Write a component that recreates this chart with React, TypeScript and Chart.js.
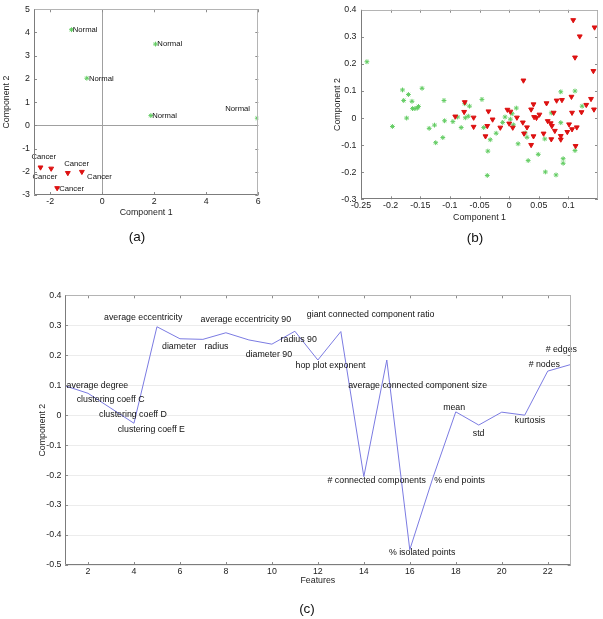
import React, { useEffect, useRef } from "react";
import { Chart, registerables } from "chart.js";
Chart.register(...registerables);

const FONT = '"Liberation Sans", Arial, Helvetica, sans-serif';
const W = 603;
const H = 619;

// ---------- Panel (a) ----------
const normalX = [-1.18, 2.05, -0.59, 1.87, 5.96];
const normalY = [4.12, 3.5, 2.03, 0.42, 0.31];
const cancerX = [-2.37, -1.96, -1.32, -0.78, -1.73];
const cancerY = [-1.81, -1.86, -2.05, -2.0, -2.7];
const aLabelText = ["Normal", "Normal", "Normal", "Normal", "Normal", "Cancer", "Cancer", "Cancer", "Cancer", "Cancer"];
const aLabelX = [-1.13, 2.12, -0.51, 1.92, 4.73, -2.72, -2.68, -1.46, -0.58, -1.65];
const aLabelY = [4.11, 3.5, 2.0, 0.4, 0.69, -1.36, -2.24, -1.67, -2.21, -2.73];
const aTicksX = [-2, 0, 2, 4, 6];
const aTicksY = [-3, -2, -1, 0, 1, 2, 3, 4, 5];

// ---------- Panel (b) ----------
const greenX = [-0.24, -0.18, -0.178, -0.17, -0.164, -0.163, -0.159, -0.155, -0.153, -0.147, -0.173, -0.197, -0.135, -0.126, -0.124, -0.112, -0.11, -0.109, -0.095, -0.087, -0.081, -0.074, -0.075, -0.069, -0.067, -0.046, -0.043, -0.036, -0.037, -0.032, -0.022, -0.011, -0.007, 0.002, 0.005, 0.007, 0.012, 0.015, 0.027, 0.03, 0.032, 0.049, 0.06, 0.061, 0.071, 0.079, 0.087, 0.087, 0.091, 0.091, 0.111, 0.111, 0.123];
const greenY = [0.208, 0.104, 0.065, 0.087, 0.062, 0.035, 0.035, 0.037, 0.043, 0.11, 0.0, -0.031, -0.038, -0.026, -0.091, -0.072, 0.065, -0.01, -0.013, 0.004, -0.035, 0.001, 0.053, 0.007, 0.044, 0.069, -0.035, -0.122, -0.212, -0.08, -0.056, -0.016, 0.004, -0.004, 0.016, -0.025, 0.037, -0.095, -0.055, -0.071, -0.157, -0.134, -0.077, -0.199, 0.019, -0.21, 0.097, -0.017, -0.15, -0.167, 0.1, -0.12, 0.044];
const redX = [0.108, 0.144, 0.119, 0.111, 0.142, 0.024, -0.091, -0.075, -0.076, -0.06, -0.06, -0.035, -0.037, -0.04, -0.028, -0.015, -0.003, 0.002, 0.0, 0.006, 0.013, 0.023, 0.025, 0.03, 0.037, 0.041, 0.037, 0.041, 0.042, 0.046, 0.051, 0.063, 0.065, 0.07, 0.058, 0.071, 0.072, 0.075, 0.077, 0.08, 0.089, 0.087, 0.087, 0.098, 0.101, 0.105, 0.106, 0.106, 0.114, 0.112, 0.122, 0.138, 0.143, 0.13];
const redY = [0.362, 0.335, 0.302, 0.224, 0.174, 0.139, 0.006, 0.059, 0.023, 0.002, -0.032, 0.025, -0.029, -0.067, -0.005, -0.035, 0.031, 0.024, -0.02, -0.035, 0.002, -0.016, -0.057, -0.034, 0.032, 0.051, -0.099, -0.067, 0.004, 0.001, 0.013, 0.055, -0.011, -0.019, -0.057, -0.078, -0.029, 0.02, -0.047, 0.065, 0.067, -0.066, -0.079, -0.051, -0.023, 0.079, 0.02, -0.041, -0.034, -0.103, 0.022, 0.071, 0.032, 0.049];
const bTicksX = [-0.25, -0.2, -0.15, -0.1, -0.05, 0, 0.05, 0.1];
const bTicksY = [-0.3, -0.2, -0.1, 0, 0.1, 0.2, 0.3, 0.4];

// ---------- Panel (c) ----------
const featureIdx = [1, 2, 3, 4, 5, 6, 7, 8, 9, 10, 11, 12, 13, 14, 15, 16, 17, 18, 19, 20, 21, 22, 23];
const featureVal = [0.098, 0.073, 0.023, -0.027, 0.295, 0.255, 0.253, 0.275, 0.251, 0.237, 0.28, 0.184, 0.279, -0.205, 0.184, -0.449, -0.21, 0.011, -0.033, 0.01, 0.0, 0.147, 0.169];
const cLabelText = ["average degree", "clustering coeff C", "clustering coeff D", "clustering coeff E", "average eccentricity", "diameter", "radius", "average eccentricity 90", "diameter 90", "radius 90", "hop plot exponent", "giant connected component ratio", "# connected components", "average connected component size", "% isolated points", "% end points", "mean", "std", "kurtosis", "# nodes", "# edges"];
const cLabelX = [1.07, 1.51, 2.48, 3.29, 2.7, 5.22, 7.07, 6.9, 8.86, 10.38, 11.03, 11.52, 12.42, 13.32, 15.09, 17.06, 17.45, 18.74, 20.57, 21.17, 21.91];
const cLabelY = [0.098, 0.051, 0.003, -0.049, 0.327, 0.228, 0.228, 0.318, 0.202, 0.253, 0.164, 0.335, -0.217, 0.098, -0.457, -0.217, 0.025, -0.06, -0.019, 0.169, 0.218];
const cTicksX = [2, 4, 6, 8, 10, 12, 14, 16, 18, 20, 22];
const cTicksY = [-0.5, -0.4, -0.3, -0.2, -0.1, 0, 0.1, 0.2, 0.3, 0.4];

const fmt = (v: number) => String(+Number(v).toFixed(4));

const framePlugin = {
  id: "frame",
  afterDraw(chart: any) {
    const { ctx, chartArea: a, scales } = chart;
    const tl = 3;
    ctx.save();
    ctx.lineWidth = 1;
    ctx.strokeStyle = "#8c8c8c";
    ctx.beginPath();
    scales.x.ticks.forEach((t: any) => {
      const p = Math.round(scales.x.getPixelForValue(t.value)) + 0.5;
      ctx.moveTo(p, a.bottom);
      ctx.lineTo(p, a.bottom - tl);
      ctx.moveTo(p, a.top);
      ctx.lineTo(p, a.top + tl);
    });
    scales.y.ticks.forEach((t: any) => {
      const p = Math.round(scales.y.getPixelForValue(t.value)) + 0.5;
      ctx.moveTo(a.left, p);
      ctx.lineTo(a.left + tl, p);
      ctx.moveTo(a.right, p);
      ctx.lineTo(a.right - tl, p);
    });
    ctx.stroke();
    const l = Math.round(a.left) + 0.5;
    const r = Math.round(a.right) - 0.5;
    const t = Math.round(a.top) + 0.5;
    const b = Math.round(a.bottom) - 0.5;
    ctx.strokeStyle = "#b4b4b4";
    ctx.beginPath();
    ctx.moveTo(l, t);
    ctx.lineTo(r, t);
    ctx.lineTo(r, b);
    ctx.stroke();
    ctx.strokeStyle = "#7c7c7c";
    ctx.beginPath();
    ctx.moveTo(l, t);
    ctx.lineTo(l, b);
    ctx.lineTo(r, b);
    ctx.stroke();
    ctx.restore();
  },
};

const labelPlugin = {
  id: "textLabels",
  afterDatasetsDraw(chart: any, _args: any, opts: any) {
    if (!opts || !opts.text) return;
    const { ctx, scales } = chart;
    ctx.save();
    ctx.font = `${opts.size}px ${FONT}`;
    ctx.fillStyle = "#111";
    ctx.textAlign = "left";
    ctx.textBaseline = "middle";
    opts.text.forEach((s: string, i: number) => {
      ctx.fillText(s, scales.x.getPixelForValue(opts.x[i]), scales.y.getPixelForValue(opts.y[i]));
    });
    ctx.restore();
  },
};

function axis(ticks: number[], min: number, max: number, extra: any, titleText: string, titlePad: any, fitSize: number, horizontal: boolean, tickPad: number) {
  return {
    type: "linear",
    min,
    max,
    afterBuildTicks: (s: any) => {
      s.ticks = ticks.map((v) => ({ value: v }));
    },
    afterFit: (s: any) => {
      if (horizontal) s.height = fitSize;
      else s.width = fitSize;
    },
    ticks: { callback: (v: any) => fmt(v), padding: tickPad, color: "#222", font: { size: 8.8, family: FONT }, maxRotation: 0, autoSkip: false },
    border: { display: false },
    title: { display: true, text: titleText, color: "#222", font: { size: 8.8, family: FONT }, padding: titlePad },
    ...extra,
  };
}

function zeroGrid() {
  return {
    display: true,
    drawTicks: false,
    lineWidth: 1,
    color: (c: any) => (c.tick && c.tick.value === 0 ? "#a0a0a0" : "rgba(0,0,0,0)"),
  };
}

const greenStyle = { radius: 2.4, color: "#62cc62", width: 1 };
const redStyle = { radius: 2.8, color: "#dd1111" };

function configA(): any {
  return {
    type: "scatter",
    data: {
      datasets: [
        { data: cancerX.map((x, i) => ({ x, y: cancerY[i] })), pointStyle: "triangle", rotation: 180, pointRadius: redStyle.radius, pointBorderColor: redStyle.color, pointBackgroundColor: redStyle.color, pointBorderWidth: 1 },
        { data: normalX.map((x, i) => ({ x, y: normalY[i] })), pointStyle: "star", pointRadius: greenStyle.radius, pointBorderColor: greenStyle.color, pointBackgroundColor: greenStyle.color, pointBorderWidth: greenStyle.width },
      ],
    },
    options: {
      responsive: false,
      animation: false,
      layout: { padding: { left: 0, top: 5.3, right: W - 258.3, bottom: H - 225 } },
      scales: {
        x: axis(aTicksX, -2.62, 6, { grid: zeroGrid() }, "Component 1", { top: 0, bottom: 7.2 }, 30, true, 1),
        y: axis(aTicksY, -3, 5, { grid: zeroGrid() }, "Component 2", { top: 1.5, bottom: 0 }, 34, false, 4),
      },
      plugins: { legend: { display: false }, tooltip: { enabled: false }, textLabels: { text: aLabelText, x: aLabelX, y: aLabelY, size: 7.7 } },
    },
    plugins: [framePlugin, labelPlugin],
  };
}

function configB(): any {
  return {
    type: "scatter",
    data: {
      datasets: [
        { data: redX.map((x, i) => ({ x, y: redY[i] })), pointStyle: "triangle", rotation: 180, pointRadius: redStyle.radius, pointBorderColor: redStyle.color, pointBackgroundColor: redStyle.color, pointBorderWidth: 1 },
        { data: greenX.map((x, i) => ({ x, y: greenY[i] })), pointStyle: "star", pointRadius: greenStyle.radius, pointBorderColor: greenStyle.color, pointBackgroundColor: greenStyle.color, pointBorderWidth: greenStyle.width },
      ],
    },
    options: {
      responsive: false,
      animation: false,
      layout: { padding: { left: 331, top: 5.3, right: W - 599.3, bottom: H - 225.6 } },
      scales: {
        x: axis(bTicksX, -0.25, 0.1498, { grid: { display: false, drawTicks: false } }, "Component 1", { top: 0, bottom: 3 }, 26.3, true, 1.4),
        y: axis(bTicksY, -0.3, 0.4, { grid: { display: false, drawTicks: false } }, "Component 2", { top: 1.4, bottom: 0 }, 30, false, 4.5),
      },
      plugins: { legend: { display: false }, tooltip: { enabled: false } },
    },
    plugins: [framePlugin],
  };
}

function configC(): any {
  return {
    type: "line",
    data: {
      datasets: [
        {
          data: featureIdx.map((x, i) => ({ x, y: featureVal[i] })),
          borderColor: "#7b7be2",
          borderWidth: 1,
          pointRadius: 0,
          tension: 0,
          fill: false,
        },
      ],
    },
    options: {
      responsive: false,
      animation: false,
      layout: { padding: { left: 35, top: 295.3, right: W - 570.7, bottom: 30 } },
      scales: {
        x: axis(cTicksX, 1, 23, { grid: { display: false, drawTicks: false } }, "Features", { top: 0, bottom: 3 }, 24, true, 1),
        y: axis(cTicksY, -0.5, 0.4, { grid: { display: true, drawTicks: false, color: "#ececec", lineWidth: 1 } }, "Component 2", { top: 2.4, bottom: 0 }, 30, false, 3.5),
      },
      plugins: { legend: { display: false }, tooltip: { enabled: false }, textLabels: { text: cLabelText, x: cLabelX, y: cLabelY, size: 8.8 } },
    },
    plugins: [framePlugin, labelPlugin],
  };
}

function ChartLayer({ make }: { make: () => any }) {
  const ref = useRef<HTMLCanvasElement | null>(null);
  useEffect(() => {
    if (!ref.current) return;
    const chart = new Chart(ref.current, make());
    return () => chart.destroy();
  }, [make]);
  return <canvas ref={ref} width={W} height={H} style={{ position: "absolute", left: 0, top: 0, width: W, height: H }} />;
}

const captionStyle = (cx: number, cy: number): React.CSSProperties => ({
  position: "absolute",
  left: cx - 30,
  top: cy - 8,
  width: 60,
  height: 16,
  lineHeight: "16px",
  textAlign: "center",
  fontFamily: FONT,
  fontSize: 13.5,
  color: "#111",
});

export default function App() {
  return (
    <div style={{ position: "absolute", left: 0, top: 0, width: W, height: H, background: "#fff", overflow: "hidden" }}>
      <ChartLayer make={configA} />
      <ChartLayer make={configB} />
      <ChartLayer make={configC} />
      <div style={captionStyle(137, 237)}>(a)</div>
      <div style={captionStyle(475, 238)}>(b)</div>
      <div style={captionStyle(307, 609)}>(c)</div>
    </div>
  );
}
